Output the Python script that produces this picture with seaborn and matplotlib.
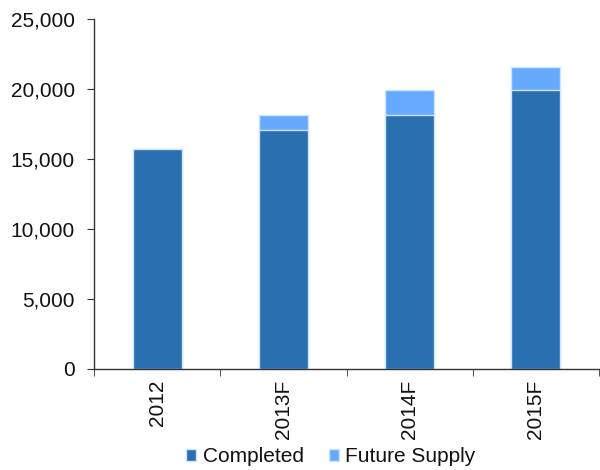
import seaborn as sns
import matplotlib.pyplot as plt
import pandas as pd
import numpy as np

years = ['2012', '2013F', '2014F', '2015F']
completed = [15700, 17050, 18130, 19930]
future_supply = [0, 1070, 1800, 1640]

dark_blue = '#2a6fb0'
light_blue = '#66aaff'

sns.set_style('ticks')
plt.rcParams['font.family'] = ['Liberation Sans', 'DejaVu Sans']

df = pd.DataFrame({'year': years, 'completed': completed, 'future': future_supply})
df['total'] = df['completed'] + df['future']

fig, ax = plt.subplots(figsize=(6, 4.7), dpi=100)
fig.subplots_adjust(left=0.157, right=0.998, top=0.96, bottom=0.215)

sns.barplot(data=df, x='year', y='total', color=light_blue, width=0.39,
            edgecolor='#cfe3ff', linewidth=1, saturation=1, ax=ax, label='Future Supply')
sns.barplot(data=df, x='year', y='completed', color=dark_blue, width=0.39,
            edgecolor='#cfe3ff', linewidth=1, saturation=1, ax=ax, label='Completed')

ax.set_ylim(0, 25000)
ax.set_xlim(-0.5, len(years) - 0.5)
ax.set_yticks(np.arange(0, 25001, 5000))
ax.yaxis.set_major_formatter(plt.FuncFormatter(lambda v, p: f'{int(v):,}'))
ax.tick_params(axis='y', labelsize=15, length=5, pad=9, color='#333333', labelcolor='#111111')
ax.tick_params(axis='x', which='major', length=0, labelsize=15, labelrotation=90, pad=8,
               labelcolor='#111111')
ax.set_xticks(np.arange(-0.5, len(years), 1), minor=True)
ax.tick_params(axis='x', which='minor', length=5, color='#333333')
ax.set_xlabel('')
ax.set_ylabel('')
for s in ['top', 'right']:
    ax.spines[s].set_visible(False)
for s in ['left', 'bottom']:
    ax.spines[s].set_color('#333333')
    ax.spines[s].set_linewidth(1)

# legend: Completed first, then Future Supply
handles, labels = ax.get_legend_handles_labels()
order = [labels.index('Completed'), labels.index('Future Supply')]
ax.legend([handles[i] for i in order], [labels[i] for i in order],
          loc='center', bbox_to_anchor=(0.469, -0.25), ncol=2, frameon=False,
          fontsize=15, handlelength=0.5, handleheight=0.5, handletextpad=0.3,
          columnspacing=1.2, borderaxespad=0, labelcolor='#111111')

plt.savefig('out.png', dpi=100)
